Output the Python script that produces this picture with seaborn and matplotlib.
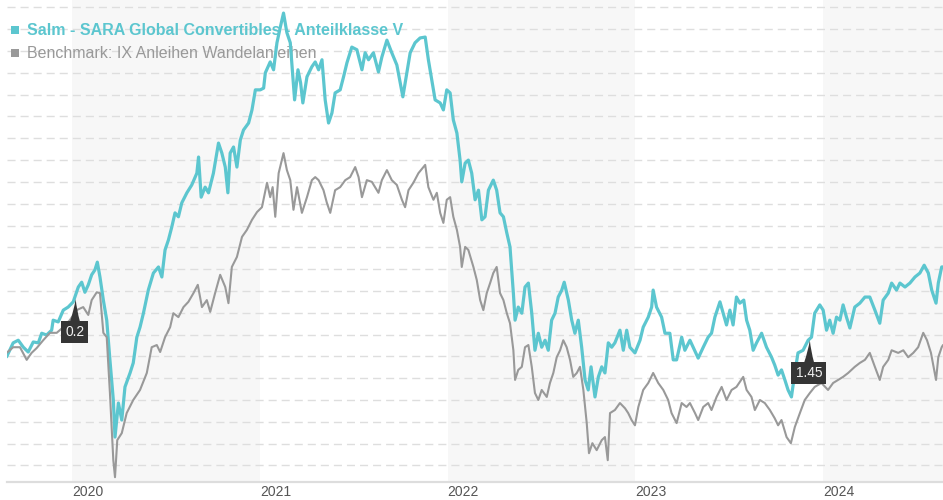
import numpy as np
import pandas as pd
import matplotlib
matplotlib.use("Agg")
import matplotlib.pyplot as plt
from matplotlib.patches import Rectangle
import seaborn as sns

# fund and benchmark (x in decimal years, y as index, start = 100)
fund_t = [2019.652, 2019.687, 2019.714, 2019.741, 2019.767, 2019.794, 2019.821, 2019.839, 2019.865, 2019.892,
          2019.900, 2019.927, 2019.954, 2019.980, 2020.007, 2020.034, 2020.052, 2020.069, 2020.087, 2020.105,
          2020.122, 2020.135, 2020.149, 2020.167, 2020.185, 2020.202, 2020.220, 2020.229, 2020.247, 2020.265,
          2020.282, 2020.309, 2020.326, 2020.345, 2020.362, 2020.380, 2020.406, 2020.433, 2020.460,
          2020.478, 2020.495, 2020.513, 2020.531, 2020.548, 2020.566, 2020.584, 2020.611, 2020.637, 2020.664,
          2020.673, 2020.687, 2020.708, 2020.726, 2020.752, 2020.779, 2020.797, 2020.815, 2020.829, 2020.841,
          2020.859, 2020.877, 2020.895, 2020.912, 2020.939, 2020.957, 2020.975, 2021.001, 2021.019, 2021.028,
          2021.054, 2021.072, 2021.090, 2021.108, 2021.125, 2021.143, 2021.161, 2021.173, 2021.184, 2021.202,
          2021.216, 2021.228, 2021.250, 2021.276,
          2021.294, 2021.312, 2021.330, 2021.347, 2021.365, 2021.383, 2021.400, 2021.427, 2021.445, 2021.463,
          2021.489, 2021.516, 2021.543, 2021.560, 2021.578, 2021.604, 2021.631, 2021.649, 2021.676, 2021.702,
          2021.729, 2021.747, 2021.761, 2021.782, 2021.800, 2021.826, 2021.853, 2021.880, 2021.897, 2021.915,
          2021.933, 2021.960, 2021.977, 2021.995, 2022.013, 2022.030, 2022.049, 2022.066, 2022.075, 2022.093,
          2022.110, 2022.128, 2022.146, 2022.164, 2022.182, 2022.199, 2022.217, 2022.243, 2022.261, 2022.279,
          2022.297, 2022.315, 2022.332, 2022.350, 2022.359, 2022.376, 2022.395, 2022.412, 2022.430, 2022.448,
          2022.465, 2022.483, 2022.501, 2022.519, 2022.536, 2022.554, 2022.572, 2022.589, 2022.608, 2022.621,
          2022.643, 2022.661, 2022.678, 2022.696, 2022.714, 2022.732, 2022.749, 2022.764, 2022.785, 2022.803,
          2022.821, 2022.838, 2022.856, 2022.874, 2022.891, 2022.918,
          2022.936, 2022.954, 2022.971, 2022.998, 2023.025, 2023.042, 2023.069, 2023.087, 2023.095, 2023.113,
          2023.140, 2023.158, 2023.184, 2023.202, 2023.220, 2023.247, 2023.264, 2023.291, 2023.308, 2023.335,
          2023.362, 2023.388, 2023.406, 2023.424, 2023.451, 2023.468, 2023.486, 2023.504, 2023.521, 2023.539,
          2023.557, 2023.578, 2023.593, 2023.610, 2023.628, 2023.646, 2023.673, 2023.699, 2023.726, 2023.743,
          2023.761, 2023.779, 2023.797, 2023.814, 2023.832, 2023.850, 2023.867, 2023.894, 2023.921, 2023.939,
          2023.956, 2023.983,
          2024.001, 2024.019, 2024.036, 2024.054, 2024.072, 2024.090, 2024.107, 2024.125, 2024.143, 2024.169,
          2024.196, 2024.223, 2024.249, 2024.276, 2024.302, 2024.320, 2024.347, 2024.365, 2024.391, 2024.409,
          2024.436, 2024.462, 2024.489, 2024.515, 2024.538, 2024.560, 2024.578, 2024.601, 2024.613, 2024.631,
          2024.638]
fund_v = [99.9, 103.1, 103.7, 102.1, 101.0, 103.3, 103.1, 105.3, 104.9, 106.0,
          108.3, 107.9, 110.6, 111.3, 112.5, 115.9, 117.0, 114.7, 116.4, 118.7,
          119.8, 121.6, 118.2, 112.9, 108.3, 99.2, 90.0, 81.5, 89.3, 85.4,
          93.0, 96.2, 98.5, 104.4, 106.7, 109.9, 115.2, 119.1, 120.5,
          118.2, 124.4, 126.7, 129.7, 132.9, 132.0, 135.2, 137.5, 139.3, 142.0,
          145.7, 136.5, 138.8, 137.5, 142.0, 148.9, 146.6, 143.4, 137.5, 146.6,
          148.0, 143.4, 149.6, 151.9, 153.5, 156.5, 161.1, 161.1, 161.5, 165.0,
          167.5, 165.7, 171.9, 175.5, 178.7, 174.2, 171.9, 165.0, 158.8, 165.7,
          162.7, 158.1, 164.1, 166.4,
          167.5, 165.7, 168.0, 158.8, 153.5, 155.8, 160.4, 161.1, 164.1, 167.3,
          170.9, 170.3, 165.7, 169.6, 168.0, 169.6, 165.2, 168.6, 172.5, 169.6,
          166.8, 162.7, 159.5, 165.0, 169.6, 171.9, 173.0, 173.2, 168.0, 163.4,
          158.8, 158.1, 156.5, 161.1, 160.4, 154.2, 151.2, 145.0, 140.0, 144.3,
          145.0, 142.0, 135.9, 138.1, 131.3, 132.0, 138.1, 140.4, 138.1, 132.9,
          132.0, 128.3, 125.1, 114.5, 108.3, 111.3, 109.9, 115.9, 116.8, 109.9,
          101.4, 105.3, 102.1, 103.7, 101.4, 108.3, 109.9, 113.6, 115.2, 117.0,
          112.9, 108.3, 105.3, 108.3, 102.1, 94.6, 92.3, 97.6, 90.7, 95.3,
          97.6, 96.2, 103.1, 102.1, 103.1, 106.0,
          101.4, 106.0, 102.1, 100.8, 103.7, 106.7, 109.0, 111.3, 115.2, 111.3,
          109.0, 105.3, 105.3, 99.2, 99.2, 104.4, 101.4, 103.7, 102.1, 99.6,
          102.1, 104.4, 105.3, 109.0, 112.5, 109.9, 107.2, 110.6, 107.2, 113.6,
          112.2, 112.9, 108.3, 106.0, 101.4, 103.1, 105.3, 102.1, 99.8, 98.0,
          95.7, 96.9, 94.6, 92.3, 90.7, 96.2, 100.8, 101.4, 103.7, 104.4,
          109.9, 111.8,
          110.6, 106.0, 108.3, 105.3, 109.0, 108.3, 111.8, 109.0, 106.5, 111.3,
          112.2, 113.6, 113.6, 110.6, 107.6, 112.9, 114.5, 116.8, 115.2, 116.8,
          115.9, 116.8, 118.2, 119.1, 120.9, 119.1, 115.2, 112.2, 116.8, 120.5,
          120.5]

bench_t = [2019.652, 2019.687, 2019.723, 2019.759, 2019.785, 2019.812, 2019.847, 2019.883, 2019.919, 2019.954,
           2019.989, 2020.025, 2020.060, 2020.087, 2020.105, 2020.132, 2020.149, 2020.167, 2020.185, 2020.202,
           2020.220, 2020.229, 2020.241, 2020.265, 2020.291, 2020.326, 2020.362, 2020.398, 2020.424, 2020.451,
           2020.469,
           2020.495, 2020.522, 2020.539, 2020.566, 2020.593, 2020.619, 2020.646, 2020.669, 2020.691, 2020.717,
           2020.735, 2020.761, 2020.788, 2020.815, 2020.832, 2020.850, 2020.877, 2020.904, 2020.930, 2020.957,
           2020.984, 2021.010, 2021.037, 2021.054, 2021.067, 2021.081, 2021.099, 2021.125, 2021.143, 2021.161,
           2021.178, 2021.197, 2021.223, 2021.250, 2021.276,
           2021.294, 2021.312, 2021.338, 2021.356, 2021.374, 2021.400, 2021.427, 2021.454, 2021.480, 2021.507,
           2021.525, 2021.543, 2021.569, 2021.596, 2021.631, 2021.649, 2021.676, 2021.702, 2021.729, 2021.756,
           2021.773, 2021.791, 2021.817, 2021.844, 2021.880, 2021.897, 2021.924, 2021.942, 2021.960, 2021.977,
           2021.995, 2022.013, 2022.030, 2022.049, 2022.066, 2022.075, 2022.093,
           2022.110, 2022.137, 2022.155, 2022.173, 2022.190, 2022.208, 2022.226, 2022.243, 2022.261, 2022.279,
           2022.297, 2022.315, 2022.332, 2022.350, 2022.359, 2022.376, 2022.395, 2022.412, 2022.430, 2022.448,
           2022.465, 2022.483, 2022.501, 2022.528, 2022.545, 2022.563, 2022.581, 2022.599, 2022.616, 2022.634,
           2022.652, 2022.669, 2022.688, 2022.705, 2022.723, 2022.741, 2022.753, 2022.771, 2022.794, 2022.821,
           2022.838, 2022.853, 2022.865, 2022.891, 2022.918, 2022.945, 2022.962, 2022.980, 2022.998,
           2023.016, 2023.042, 2023.069, 2023.095, 2023.122, 2023.149, 2023.175, 2023.193, 2023.220, 2023.247,
           2023.273, 2023.291, 2023.318, 2023.335, 2023.362, 2023.388, 2023.406, 2023.433, 2023.460, 2023.486,
           2023.513, 2023.539, 2023.575, 2023.593, 2023.619, 2023.637, 2023.664, 2023.690, 2023.717, 2023.743,
           2023.761, 2023.779, 2023.806, 2023.829, 2023.850, 2023.877, 2023.903, 2023.930, 2023.956, 2023.992,
           2024.027, 2024.054, 2024.081, 2024.107, 2024.134, 2024.169, 2024.196, 2024.223, 2024.249, 2024.276,
           2024.302, 2024.320, 2024.347, 2024.365, 2024.400, 2024.427, 2024.453, 2024.480, 2024.506, 2024.533,
           2024.553, 2024.574, 2024.601, 2024.613, 2024.631, 2024.638]
bench_v = [100.8, 102.1, 102.1, 99.2, 100.8, 101.9, 103.7, 105.4, 105.4, 106.7,
           108.3, 110.6, 111.3, 109.5, 112.9, 114.7, 114.5, 105.4, 104.4, 91.6,
           76.2, 72.3, 80.8, 82.4, 87.0, 90.0, 92.3, 96.2, 102.1, 102.6,
           101.0,
           104.4, 106.7, 109.9, 109.0, 111.3, 112.5, 114.5, 116.4, 111.3, 112.9,
           110.2, 114.5, 118.7, 115.9, 112.2, 120.5, 122.8, 127.4, 129.0, 131.3,
           133.1, 134.2, 139.8, 136.5, 138.8, 132.0, 142.0, 146.6, 142.7, 140.4,
           133.6, 138.8, 132.9, 136.5, 140.4,
           141.1, 140.4, 138.1, 135.2, 132.9, 138.1, 138.8, 140.4, 141.1, 143.4,
           141.1, 136.5, 140.4, 140.0, 137.5, 140.4, 142.7, 140.4, 139.3, 135.9,
           134.2, 138.1, 139.8, 142.0, 143.9, 138.8, 135.9, 137.5, 132.9, 130.6,
           135.9, 136.5, 132.0, 129.0, 125.1, 120.5, 125.1,
           124.4, 120.5, 117.5, 112.9, 110.6, 114.5, 116.8, 119.1, 120.5, 114.5,
           112.9, 109.9, 107.6, 101.4, 94.6, 96.9, 97.6, 102.1, 102.6, 97.6,
           91.6, 90.0, 92.3, 90.7, 93.9, 96.2, 99.8, 101.4, 103.7, 102.1,
           99.2, 95.3, 96.2, 97.6, 92.3, 84.7, 77.8, 80.1, 78.5, 80.8,
           81.5, 76.2, 87.0, 87.7, 89.3, 88.1, 87.0, 85.4, 84.2,
           88.4, 92.3, 93.9, 96.2, 93.9, 92.3, 90.0, 87.0, 84.7, 89.3,
           88.4, 89.3, 87.0, 85.4, 88.4, 89.3, 87.7, 90.7, 93.0, 90.0,
           92.3, 93.0, 95.3, 92.3, 90.7, 87.7, 90.0, 89.3, 87.7, 85.8,
           84.2, 85.4, 81.5, 80.1, 83.8, 87.0, 90.0, 91.6, 93.0, 93.9,
           92.3, 93.9, 94.6, 95.3, 96.2, 97.6, 98.5, 99.2, 100.8, 97.6,
           94.6, 97.6, 99.2, 101.4, 100.8, 101.4, 99.8, 100.8, 102.1, 105.4,
           103.7, 100.8, 94.6, 99.8, 102.1, 102.6]

# distributions shown as flags on the fund line
payout_t = [2020.020, 2023.930]
payout_amounts = [0.2, 1.45]
payout_levels = [113.1, 103.7]

fund_name = "Salm - SARA Global Convertibles - Anteilklasse V"
bench_name = "Benchmark: IX Anleihen Wandelanleihen"
tick_years = [2020, 2021, 2022, 2023, 2024]
shaded_years = [2020, 2022, 2024]
grid_levels = list(range(75, 181, 5))

TEAL = "#5cc6cf"
GRAY = "#999999"


def to_date(t):
    # decimal year -> timestamp
    year = int(np.floor(t))
    start = pd.Timestamp(year=year, month=1, day=1)
    end = pd.Timestamp(year=year + 1, month=1, day=1)
    return start + (t - year) * (end - start)


fund = pd.DataFrame({"date": [to_date(t) for t in fund_t], "value": fund_v})
bench = pd.DataFrame({"date": [to_date(t) for t in bench_t], "value": bench_v})

sns.set_style("white")
plt.rcParams["font.family"] = ["Liberation Sans", "DejaVu Sans"]

W, H = 943, 500
fig = plt.figure(figsize=(W / 100, H / 100), dpi=100)
ax = fig.add_axes([7 / W, 18 / H, 936 / W, 482 / H])

# alternating year bands
for y in shaded_years:
    ax.axvspan(to_date(y), to_date(y + 1), color="#f7f7f7", lw=0, zorder=0)

sns.lineplot(data=fund, x="date", y="value", color=TEAL, linewidth=2.3,
             estimator=None, sort=False, ax=ax, zorder=2)
sns.lineplot(data=bench, x="date", y="value", color=GRAY, linewidth=1.5,
             estimator=None, sort=False, ax=ax, zorder=3)

# dashed horizontal grid, no y labels
ax.set_yticks(grid_levels)
ax.set_axisbelow(True)
ax.yaxis.grid(True, color="#dedede", linewidth=1.0, linestyle=(0, (5.8, 3.6)))
ax.xaxis.grid(False)
ax.tick_params(axis="y", left=False, labelleft=False)

ax.set_xticks([to_date(y) for y in tick_years])
ax.set_xticklabels([str(y) for y in tick_years], ha="left", fontsize=10, color="#555555")
ax.tick_params(axis="x", length=0, pad=2)

ax.set_xlim(to_date(2019.654), to_date(2024.638))
ax.set_ylim(71.2, 181.7)
ax.set(xlabel="", ylabel="")

sns.despine(ax=ax, left=True)
ax.spines["bottom"].set_color("#dddddd")
ax.spines["bottom"].set_linewidth(1.6)

# legend, drawn under the lines
for name, color, weight, base in [(fund_name, TEAL, "bold", 35), (bench_name, GRAY, "normal", 58)]:
    ax.text(27 / W, 1 - base / H, name, transform=fig.transFigure, color=color,
            fontsize=11.5, fontweight=weight, va="baseline", ha="left", zorder=1)
    ax.add_patch(Rectangle((10.5 / W, 1 - (base - 1) / H), 8 / W, 8 / H, transform=fig.transFigure,
                           facecolor=color, edgecolor="none", clip_on=False, zorder=1))

# distribution flags
for t, amt, lvl in zip(payout_t, payout_amounts, payout_levels):
    ax.annotate(f"{amt:g}", xy=(to_date(t), lvl), xytext=(-1, -33), textcoords="offset pixels",
                ha="center", va="center", fontsize=9.9, color="#f2f2f2", zorder=6,
                bbox=dict(boxstyle="square,pad=0.3", fc="#353535", ec="none"),
                arrowprops=dict(arrowstyle="wedge,tail_width=0.5,shrink_factor=0.4",
                                fc="#353535", ec="none", mutation_scale=14,
                                shrinkA=0, shrinkB=0))

fig.savefig("out.png", dpi=100)
